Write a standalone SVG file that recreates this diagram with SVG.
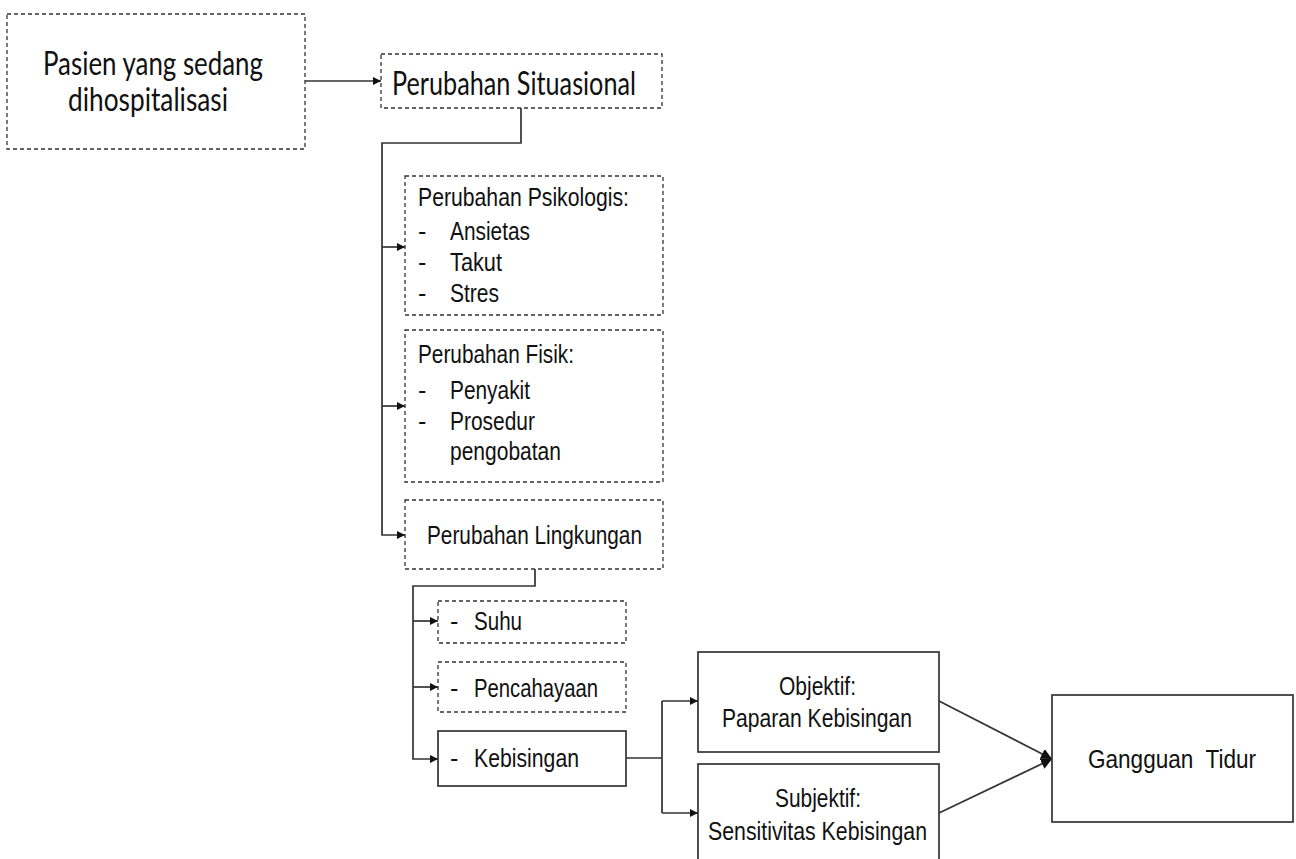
<svg xmlns="http://www.w3.org/2000/svg" width="1296" height="859" viewBox="0 0 1296 859">
<style>
.bg{fill:#ffffff}
.dash{fill:#ffffff;stroke:#333333;stroke-width:1.3;stroke-dasharray:4 3}
.solid{fill:#ffffff;stroke:#333333;stroke-width:1.7}
.ln{fill:none;stroke:#333333;stroke-width:1.7}
.arr{marker-end:url(#ah)}
.t{font-family:"Liberation Sans",Arial,sans-serif;font-size:25px;fill:#111111}
.c{font-family:Lato,"Open Sans",sans-serif;font-size:32px;fill:#111111}
.pre{white-space:pre}
</style>
<defs>
<marker id="ah" viewBox="0 0 10 10" refX="10" refY="5" markerWidth="9" markerHeight="8" markerUnits="userSpaceOnUse" orient="auto">
<path d="M0,0 L10,5 L0,10 z" fill="#111111"/>
</marker>
<marker id="ah2" viewBox="0 0 10 10" refX="10" refY="5" markerWidth="11" markerHeight="11" markerUnits="userSpaceOnUse" orient="auto">
<path d="M0,0 L10,5 L0,10 z" fill="#111111"/>
</marker>
</defs>
<rect class="bg" x="0" y="0" width="1296" height="859"/>

<g id="connectors">
<path class="ln arr" d="M305,81 H381"/>
<path class="ln arr" d="M521,108 V143 H382 V535 H405"/>
<path class="ln arr" d="M382,247 H405"/>
<path class="ln arr" d="M382,406 H405"/>
<path class="ln arr" d="M535,569 V586 H413 V759 H438"/>
<path class="ln arr" d="M413,621 H438"/>
<path class="ln arr" d="M413,687 H438"/>
<path class="ln" d="M626,758 H662 M662,701 V813"/>
<path class="ln arr" d="M662,701 H698"/>
<path class="ln arr" d="M662,813 H698"/>
<path class="ln" d="M939,701 L1052,759" marker-end="url(#ah2)"/>
<path class="ln" d="M939,813 L1052,759" marker-end="url(#ah2)"/>
</g>

<g id="pasien">
<rect class="dash" x="7" y="14" width="298" height="135"/>
<text class="c" x="43" y="75" textLength="220" lengthAdjust="spacingAndGlyphs">Pasien yang sedang</text>
<text class="c" x="68" y="111" textLength="160" lengthAdjust="spacingAndGlyphs">dihospitalisasi</text>
</g>

<g id="situasional">
<rect class="dash" x="381" y="54" width="281" height="54"/>
<text class="c" x="392" y="95" textLength="244" lengthAdjust="spacingAndGlyphs">Perubahan Situasional</text>
</g>

<g id="psikologis">
<rect class="dash" x="405" y="176" width="258" height="139"/>
<text class="t" x="418" y="206" textLength="211" lengthAdjust="spacingAndGlyphs">Perubahan Psikologis:</text>
<text class="t" x="418" y="240">-</text>
<text class="t" x="450" y="240" textLength="80" lengthAdjust="spacingAndGlyphs">Ansietas</text>
<text class="t" x="418" y="271">-</text>
<text class="t" x="450" y="271" textLength="52" lengthAdjust="spacingAndGlyphs">Takut</text>
<text class="t" x="418" y="302">-</text>
<text class="t" x="450" y="302" textLength="49" lengthAdjust="spacingAndGlyphs">Stres</text>
</g>

<g id="fisik">
<rect class="dash" x="405" y="330" width="258" height="152"/>
<text class="t" x="418" y="363" textLength="156" lengthAdjust="spacingAndGlyphs">Perubahan Fisik:</text>
<text class="t" x="418" y="399">-</text>
<text class="t" x="450" y="399" textLength="80" lengthAdjust="spacingAndGlyphs">Penyakit</text>
<text class="t" x="418" y="430">-</text>
<text class="t" x="450" y="430" textLength="85" lengthAdjust="spacingAndGlyphs">Prosedur</text>
<text class="t" x="450" y="460" textLength="111" lengthAdjust="spacingAndGlyphs">pengobatan</text>
</g>

<g id="lingkungan">
<rect class="dash" x="405" y="500" width="258" height="69"/>
<text class="t" x="427" y="544" textLength="215" lengthAdjust="spacingAndGlyphs">Perubahan Lingkungan</text>
</g>

<g id="suhu">
<rect class="dash" x="438" y="601" width="188" height="42"/>
<text class="t" x="450" y="630">-</text>
<text class="t" x="474" y="630" textLength="48" lengthAdjust="spacingAndGlyphs">Suhu</text>
</g>

<g id="pencahayaan">
<rect class="dash" x="438" y="662" width="188" height="50"/>
<text class="t" x="450" y="697">-</text>
<text class="t" x="474" y="697" textLength="124" lengthAdjust="spacingAndGlyphs">Pencahayaan</text>
</g>

<g id="kebisingan">
<rect class="solid" x="438" y="731" width="188" height="55"/>
<text class="t" x="450" y="767">-</text>
<text class="t" x="474" y="767" textLength="105" lengthAdjust="spacingAndGlyphs">Kebisingan</text>
</g>

<g id="objektif">
<rect class="solid" x="698" y="652" width="241" height="100"/>
<text class="t" x="779" y="695" textLength="77" lengthAdjust="spacingAndGlyphs">Objektif:</text>
<text class="t" x="722" y="727" textLength="190" lengthAdjust="spacingAndGlyphs">Paparan Kebisingan</text>
</g>

<g id="subjektif">
<rect class="solid" x="698" y="764" width="241" height="110"/>
<text class="t" x="775" y="807" textLength="86" lengthAdjust="spacingAndGlyphs">Subjektif:</text>
<text class="t" x="708" y="840" textLength="219" lengthAdjust="spacingAndGlyphs">Sensitivitas Kebisingan</text>
</g>

<g id="gangguan">
<rect class="solid" x="1052" y="695" width="241" height="127"/>
<text class="t pre" x="1088" y="768" textLength="168" lengthAdjust="spacingAndGlyphs">Gangguan  Tidur</text>
</g>
</svg>
